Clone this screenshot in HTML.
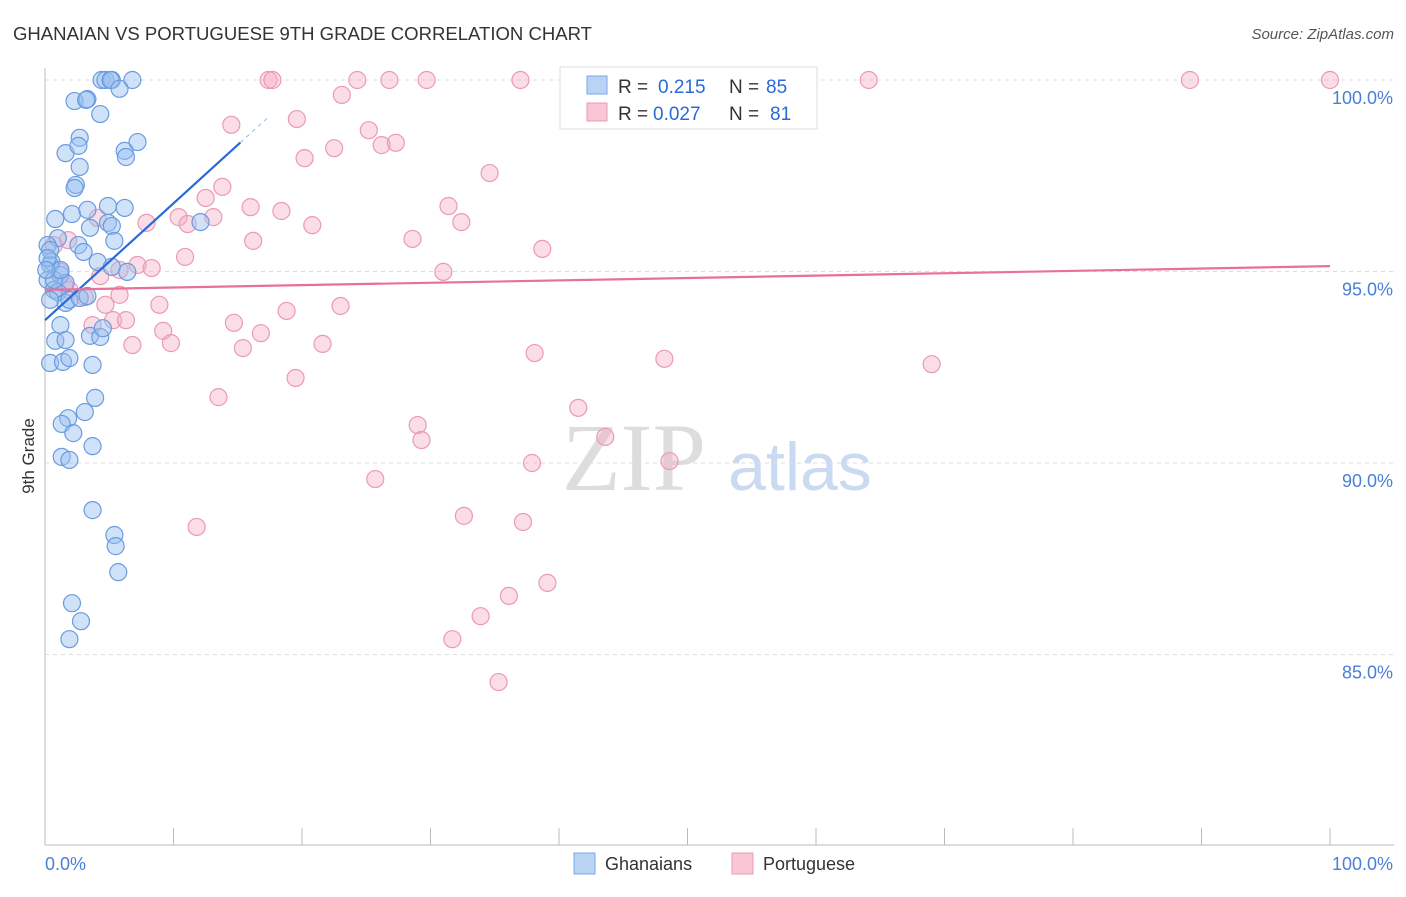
<!DOCTYPE html>
<html><head><meta charset="utf-8"><style>
body{margin:0;background:#fff;font-family:"Liberation Sans",sans-serif}
</style></head><body>
<svg id="c" width="1406" height="892" xmlns="http://www.w3.org/2000/svg">
<text x="13" y="40" font-size="18" fill="#333" textLength="579" lengthAdjust="spacingAndGlyphs">GHANAIAN VS PORTUGUESE 9TH GRADE CORRELATION CHART</text>
<text x="1394" y="39" font-size="15" fill="#555" font-style="italic" text-anchor="end">Source: ZipAtlas.com</text>
<text x="634" y="490" font-size="96" fill="#ddd" font-family="Liberation Serif" text-anchor="middle">ZIP</text>
<text x="800" y="490" font-size="68" fill="#c9daf2" text-anchor="middle">atlas</text>
<text transform="translate(34,456) rotate(-90)" font-size="17" fill="#333" text-anchor="middle">9th Grade</text>
<g id="grid"></g><g id="pts"></g><g id="trend"></g>
<g>
<rect x="560" y="67" width="257" height="62" fill="#fff" stroke="#ddd"/>
<rect x="587" y="76" width="20" height="18" fill="#b9d3f5" stroke="#7aa6e6"/>
<rect x="587" y="103" width="20" height="18" fill="#f8c6d4" stroke="#ec9ab2"/>
<text x="618" y="93" font-size="19" fill="#333">R =</text>
<text x="658" y="93" font-size="19" fill="#2a6ad6">0.215</text>
<text x="729" y="93" font-size="19" fill="#333">N =</text>
<text x="766" y="93" font-size="19" fill="#2a6ad6">85</text>
<text x="618" y="120" font-size="19" fill="#333">R =</text>
<text x="653" y="120" font-size="19" fill="#2a6ad6">0.027</text>
<text x="729" y="120" font-size="19" fill="#333">N =</text>
<text x="770" y="120" font-size="19" fill="#2a6ad6">81</text>
</g>
<g>
<rect x="574" y="853" width="21" height="21" fill="#b9d3f5" stroke="#7aa6e6"/>
<text x="605" y="870" font-size="18" fill="#333">Ghanaians</text>
<rect x="732" y="853" width="21" height="21" fill="#f8c6d4" stroke="#ec9ab2"/>
<text x="763" y="870" font-size="18" fill="#333">Portuguese</text>
</g>
</svg>
<script>
const blueX=[4.4,4.7,5.2,5.1,6.8,5.8,2.3,3.3,3.2,4.3,2.7,1.6,2.6,2.7,6.2,6.3,7.2,2.4,2.3,0.8,2.1,3.3,4.9,6.2,4.9,5.2,3.5,12.1,2.6,1.0,0.2,0.5,0.4,0.2,1.2,1.6,3.0,4.1,5.2,6.4,5.4,0.7,1.0,1.6,1.9,2.7,3.3,0.4,1.2,0.8,1.6,3.5,4.3,4.5,0.4,1.4,1.9,3.7,3.9,3.1,1.8,1.3,2.2,1.3,1.9,3.7,3.7,5.4,5.5,5.7,2.1,2.8,1.9,0.4,0.2,0.7,1.2,0.1];
const blueY=[100,100,100,100,100,99.77,99.45,99.5,99.48,99.11,98.49,98.09,98.28,97.73,98.15,97.99,98.38,97.26,97.18,96.37,96.5,96.61,96.71,96.66,96.27,96.19,96.14,96.29,95.69,95.87,95.69,95.25,95.17,94.78,94.91,94.7,95.51,95.25,95.12,94.99,95.8,94.52,94.46,94.18,94.26,94.31,94.36,94.26,93.6,93.19,93.21,93.32,93.29,93.52,92.61,92.64,92.74,92.56,91.7,91.33,91.17,91.02,90.78,90.16,90.08,90.44,88.77,88.12,87.83,87.15,86.34,85.87,85.4,95.56,95.35,94.78,95.04,95.04];
const pinkX=[17.4,17.7,24.3,26.8,29.7,37.0,45.5,64.1,89.1,100,23.1,14.5,19.6,25.2,26.2,27.3,22.5,20.2,34.6,13.8,12.5,16.0,18.4,10.4,13.1,11.1,20.8,31.4,32.4,7.9,4.1,1.8,16.2,28.6,38.7,10.9,7.2,8.3,31.0,0.7,1.2,1.5,1.9,5.8,4.7,8.9,18.8,23.0,3.7,5.3,6.3,14.7,9.2,16.8,9.8,6.8,15.4,21.6,38.1,48.2,69.0,19.5,13.5,41.5,29.0,29.3,43.6,37.9,48.6,25.7,11.8,32.6,37.2,39.1,36.1,33.9,31.7,35.3,4.3,3.1,5.8];
const pinkY=[100,100,100,100,100,100,100,100,100,100,99.61,98.83,98.98,98.69,98.3,98.36,98.22,97.96,97.57,97.21,96.92,96.68,96.58,96.42,96.42,96.24,96.21,96.71,96.29,96.27,96.4,95.82,95.8,95.85,95.59,95.38,95.17,95.09,94.99,95.69,94.99,94.65,94.52,94.39,94.13,94.13,93.97,94.1,93.6,93.73,93.73,93.66,93.45,93.39,93.13,93.08,93.0,93.11,92.87,92.72,92.58,92.22,91.72,91.44,90.99,90.6,90.68,90.0,90.05,89.58,88.33,88.62,88.46,86.87,86.53,86.0,85.4,84.28,94.88,94.33,95.04];
const blueTrend=[93.73,0.305];
const pinkTrend=[94.52,0.0062];
const yTicks=[100,95,90,85];
const yTickLabels=["100.0%","95.0%","90.0%","85.0%"];
const NS="http://www.w3.org/2000/svg";
const sx=v=>45+v*12.85, sy=v=>80+(100-v)*38.3;
function mk(t,a,p){const e=document.createElementNS(NS,t);for(const k in a)e.setAttribute(k,a[k]);p.appendChild(e);return e;}
const grid=document.getElementById('grid');
mk('line',{x1:45,y1:68,x2:45,y2:845,stroke:'#bbb'},grid);
mk('line',{x1:45,y1:845,x2:1394,y2:845,stroke:'#bbb'},grid);
yTicks.forEach((v,i)=>{
 const l=mk('line',{x1:45,y1:sy(v),x2:1394,y2:sy(v),stroke:'#ddd','stroke-dasharray':'4,4'},grid);
 
 
 const t=mk('text',{x:1393,y:sy(v)+24,'font-size':18,fill:'#4a7fd6','text-anchor':'end'},grid);
 t.textContent=yTickLabels[i];
 
 
});
for(let i=0;i<=10;i++){const l=mk('line',{x1:sx(i*10),y1:828,x2:sx(i*10),y2:845,stroke:'#bbb'},grid);
 
 }
const x0=mk('text',{x:45,y:870,'font-size':18,fill:'#4a7fd6'},grid);x0.textContent='0.0%';


const x1=mk('text',{x:1393,y:870,'font-size':18,fill:'#4a7fd6','text-anchor':'end'},grid);x1.textContent='100.0%';


const pts=document.getElementById('pts');
pinkX.forEach((x,i)=>{const c=mk('circle',{cx:sx(x),cy:sy(pinkY[i]),r:8.5,fill:'rgba(244,170,195,0.4)',stroke:'#eb9ab4','stroke-width':1.2},pts);
 
 });
blueX.forEach((x,i)=>{const c=mk('circle',{cx:sx(x),cy:sy(blueY[i]),r:8.5,fill:'rgba(150,190,240,0.45)',stroke:'#6a9be0','stroke-width':1.2},pts);
 
 });
const tr=document.getElementById('trend');
const b=mk('line',{x1:sx(0),y1:sy(blueTrend[0]),x2:sx(15.2),y2:sy(blueTrend[0]+blueTrend[1]*15.2),stroke:'#2a6ad6','stroke-width':2.2},tr);


const bd=mk('line',{x1:sx(15.2),y1:sy(blueTrend[0]+blueTrend[1]*15.2),x2:sx(17.5),y2:sy(blueTrend[0]+blueTrend[1]*17.5),stroke:'#9ab8e6','stroke-width':1,'stroke-dasharray':'4,4'},tr);


const p=mk('line',{x1:sx(0),y1:sy(pinkTrend[0]),x2:sx(100),y2:sy(pinkTrend[0]+pinkTrend[1]*100),stroke:'#e8709a','stroke-width':2.2},tr);


</script>
</body></html>
